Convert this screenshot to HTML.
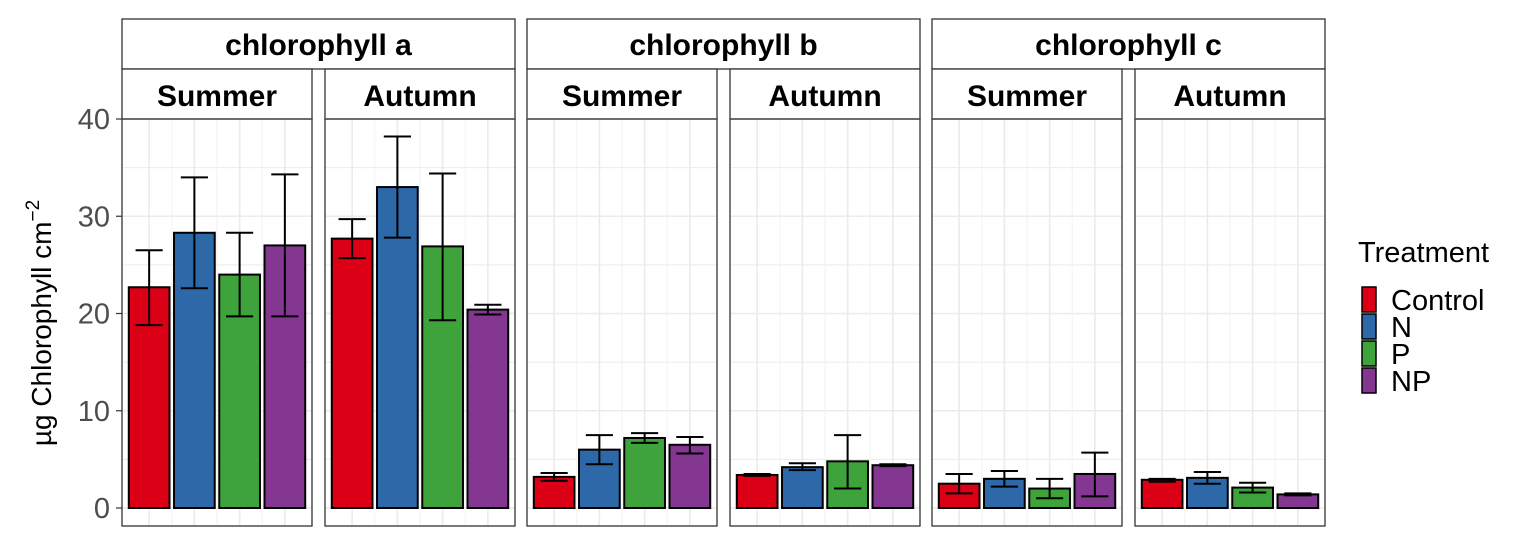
<!DOCTYPE html>
<html><head><meta charset="utf-8"><style>
html,body{margin:0;padding:0;background:#fff}
svg{display:block;font-family:"Liberation Sans",Arial,sans-serif}
</style></head><body>
<svg id="chart" width="1535" height="546" viewBox="0 0 1535 546" xmlns="http://www.w3.org/2000/svg"></svg>
<script>
const pigments = ["chlorophyll a","chlorophyll b","chlorophyll c"];
const seasons = ["Summer","Autumn"];
const treatments = ["Control","N","P","NP"];
const colors = ["#DC0016","#2D69A8","#3DA33A","#833790"];
const yTicks = [0,10,20,30,40];
// mean values per panel (pigment x season), per treatment
const means = [
  [22.7,28.3,24.0,27.0],[27.7,33.0,26.9,20.4],
  [3.2,6.0,7.2,6.5],[3.4,4.2,4.8,4.4],
  [2.5,3.0,2.0,3.5],[2.9,3.1,2.1,1.4]
];
const lows = [
  [18.8,22.6,19.7,19.7],[25.7,27.8,19.3,19.9],
  [2.8,4.5,6.7,5.6],[3.3,3.9,2.0,4.3],
  [1.5,2.2,1.0,1.2],[2.7,2.5,1.6,1.3]
];
const highs = [
  [26.5,34.0,28.3,34.3],[29.7,38.2,34.4,20.9],
  [3.6,7.5,7.7,7.3],[3.5,4.6,7.5,4.5],
  [3.5,3.8,3.0,5.7],[3.0,3.7,2.6,1.5]
];

const NS="http://www.w3.org/2000/svg";
const svg=document.getElementById('chart');
function mk(tag,attrs,parent){const e=document.createElementNS(NS,tag);for(const k in attrs)e.setAttribute(k,attrs[k]);(parent||svg).appendChild(e);return e;}
const plotTop=119, plotBot=526, y0=508, pxPerUnit=9.725;
const yS=v=>y0-v*pxPerUnit;
const panelW=190, lefts=[122,325,527,730,932,1135];
const unit=panelW/4.2;
const xS=(p,i)=>lefts[p]+(i+0.6)*unit;

// y axis ticks
yTicks.forEach(t=>{
  const tl=mk('text',{x:110,y:yS(t)+10,'text-anchor':'end','font-size':29,fill:'#4d4d4d'});
  
  
  tl.textContent=t;
  const tk=mk('line',{x1:116,x2:122,y1:yS(t),y2:yS(t),stroke:'#333','stroke-width':1.2});
  
  
});
const yt=mk('text',{x:0,y:0,transform:'translate(51,323) rotate(-90)','text-anchor':'middle','font-size':28,fill:'#000'});


yt.innerHTML='µg Chlorophyll cm<tspan dy="-12" font-size="19">−2</tspan>';

// group strips
pigments.forEach((pg,g)=>{
  const x=lefts[g*2], w=lefts[g*2+1]+panelW-x;
  const r=mk('rect',{x:x,y:19,width:w,height:50,fill:'#fff',stroke:'#333','stroke-width':1.3});
  
  
  const t=mk('text',{x:x+w/2,y:55,'text-anchor':'middle','font-size':30,'font-weight':'bold'});
  
  
  t.textContent=pg;
});

for(let p=0;p<6;p++){
  const L=lefts[p];
  const sr=mk('rect',{x:L,y:69,width:panelW,height:50,fill:'#fff',stroke:'#333','stroke-width':1.3});
  
  
  const st=mk('text',{x:L+panelW/2,y:106,'text-anchor':'middle','font-size':30,'font-weight':'bold'});
  
  
  st.textContent=seasons[p%2];
  const g=mk('g',{});
  
  
  for(let v=0;v<=40;v+=5){
    mk('line',{x1:L,x2:L+panelW,y1:yS(v),y2:yS(v),stroke:'#ebebeb','stroke-width':v%10?1:1.6},g);
  }
  for(let i=0;i<4;i++){
    mk('line',{x1:xS(p,i),x2:xS(p,i),y1:plotTop,y2:plotBot,stroke:'#ebebeb','stroke-width':1.6},g);
    if(i<3) mk('line',{x1:xS(p,i)+unit/2,x2:xS(p,i)+unit/2,y1:plotTop,y2:plotBot,stroke:'#f2f2f2','stroke-width':1},g);
  }
  for(let i=0;i<4;i++){
    const cx=xS(p,i), bw=unit*0.9;
    const b=mk('rect',{x:cx-bw/2,y:yS(means[p][i]),width:bw,height:yS(0)-yS(means[p][i]),fill:colors[i],stroke:'#000','stroke-width':2},g);
    
    
    const e=mk('path',{d:`M${cx} ${yS(lows[p][i])}V${yS(highs[p][i])}M${cx-unit*0.3} ${yS(highs[p][i])}H${cx+unit*0.3}M${cx-unit*0.3} ${yS(lows[p][i])}H${cx+unit*0.3}`,stroke:'#000','stroke-width':2,fill:'none'},g);
    
    
  }
  const br=mk('rect',{x:L,y:plotTop,width:panelW,height:plotBot-plotTop,fill:'none',stroke:'#333','stroke-width':1.3});
  
  
}

// legend
const lt=mk('text',{x:1358,y:262,'font-size':29});


lt.textContent='Treatment';
treatments.forEach((t,i)=>{
  const y=287+i*27;
  const r=mk('rect',{x:1362,y:y,width:14,height:25,fill:colors[i],stroke:'#000','stroke-width':1.5});
  
  
  const tx=mk('text',{x:1391,y:y+23,'font-size':29});
  
  
  tx.textContent=t;
});
</script>
</body></html>
